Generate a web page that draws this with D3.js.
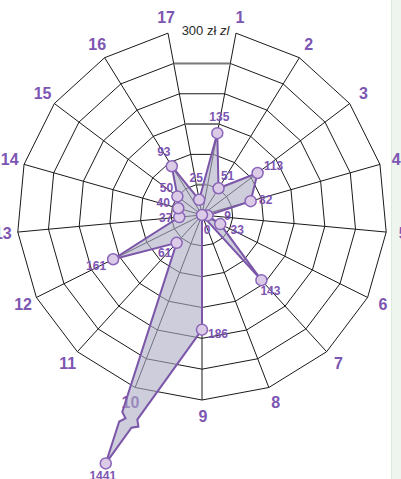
<!DOCTYPE html>
<html>
<head>
<meta charset="utf-8">
<script src="https://cdn.jsdelivr.net/npm/d3@7/dist/d3.min.js"></script>
<style>
  html, body { margin: 0; padding: 0; background: #fff; }
  svg { display: block; }
  text { font-family: "Liberation Sans", Arial, sans-serif; }
</style>
</head>
<body>
<svg id="chart" width="401" height="479"></svg>
<script>
// ---------- data ----------
const categories = ["1","2","3","4","5","6","7","8","9","10","11","12","13","14","15","16","17"];
const values = [135, 51, 113, 82, 9, 33, 143, 0, 186, 1441, 61, 161, 37, 40, 50, 93, 25];
const ringTicks = [50, 100, 150, 200, 250, 300];
const scaleMax = 300;
const scaleTitle = ["300 zł ", "zl"];

// ---------- layout ----------
const W = 401, H = 479;
const cx = 202, cy = 215, R = 185;
const overflowFactor = 1.44;
const purple = "#7d55b2";
// value label offsets (px) relative to each point
const labelOffsets = [[2,-16],[9,-12],[16,-7],[15,-1],[20,0],[17,6],[9,11],[5,15],[16,4],
                      [-3,13],[-12,10],[-17,7],[-13.5,1],[-15,-5],[-11,-8],[-8,-14],[-3,-22]];

const svg = d3.select("#chart");
const n = categories.length;
const angle = d3.scaleLinear().domain([0, n]).range([0, 2 * Math.PI]);
const rScale = d3.scaleLinear().domain([0, scaleMax]).range([0, R]);
const pt = (i, r) => {
  const a = angle(i + 0.5);
  return [cx + r * Math.sin(a), cy - r * Math.cos(a)];
};

// right side strip
svg.append("rect").attr("x", 391).attr("y", 0).attr("width", 10).attr("height", H)
  .attr("fill", "#eef5ee");
svg.append("line").attr("x1", 391.5).attr("x2", 391.5).attr("y1", 0).attr("y2", H)
  .attr("stroke", "#dde9dd").attr("stroke-width", 1);

const grid = svg.append("g").attr("fill", "none").attr("stroke", "#1a1a1a").attr("stroke-width", 1);

// rings (outer ring has a gap between axis 17 and axis 1 for the title)
ringTicks.forEach((t, k) => {
  const r = rScale(t);
  const pts = d3.range(n).map(i => pt(i, r));
  if (t === scaleMax) {
    grid.append("path").attr("d", d3.line()(pts));
  } else {
    grid.append("path").attr("d", d3.line()(pts) + "Z");
  }
});
// axes
d3.range(n).forEach(i => {
  const [x, y] = pt(i, R);
  grid.append("line").attr("x1", cx).attr("y1", cy).attr("x2", x).attr("y2", y);
});
// highlighted scale segments (top, between 17 and 1)
[50, 150, 250].forEach(t => {
  const a = pt(n - 1, rScale(t)), b = pt(0, rScale(t));
  svg.append("line").attr("x1", a[0]).attr("y1", a[1]).attr("x2", b[0]).attr("y2", b[1])
    .attr("stroke", "#7a7a7a").attr("stroke-width", 2);
});

// axis labels
svg.append("g").selectAll("text").data(categories).join("text")
  .attr("x", (d, i) => pt(i, R + 16)[0] + 1)
  .attr("y", (d, i) => pt(i, R + 16)[1])
  .attr("text-anchor", "middle").attr("dominant-baseline", "central")
  .attr("font-size", 16).attr("font-weight", "bold").attr("fill", purple)
  .text(d => d);

// scale title
const title = svg.append("text").attr("x", 205.5).attr("y", 35)
  .attr("text-anchor", "middle").attr("font-size", 13).attr("fill", "#2a2a2a");
title.append("tspan").text(scaleTitle[0]);
title.append("tspan").attr("font-style", "italic").text(scaleTitle[1]);

// data points (overflow values placed beyond the outer ring)
const points = values.map((v, i) => pt(i, v > scaleMax ? R * overflowFactor : rScale(v)));

// build polygon with zigzag breaks on edges that lead to overflow points
function zig(q, p) {
  const dx = p[0] - q[0], dy = p[1] - q[1];
  const L = Math.hypot(dx, dy);
  const ux = dx / L, uy = dy / L;
  let nx = -uy, ny = ux;
  if (nx < 0) { nx = -nx; ny = -ny; }
  const at = (d, o) => [q[0] + ux * d + nx * o, q[1] + uy * d + ny * o];
  return [at(54, 0), at(49, 5), at(44, 0)];
}
const path = [];
values.forEach((v, i) => {
  const prevI = (i - 1 + n) % n;
  if (v > scaleMax) {
    path.push(...zig(points[i], points[prevI]));
    path.push(points[i]);
    const nextI = (i + 1) % n;
    path.push(...zig(points[i], points[nextI]).reverse());
  } else {
    path.push(points[i]);
  }
});
svg.append("path").attr("d", d3.line()(path) + "Z")
  .attr("fill", "#acabc4").attr("fill-opacity", 0.6)
  .attr("stroke", "#7b56a9").attr("stroke-width", 2).attr("stroke-linejoin", "miter");

// point markers
svg.append("g").selectAll("circle").data(points).join("circle")
  .attr("cx", d => d[0]).attr("cy", d => d[1]).attr("r", 5.5)
  .attr("fill", "#dccbe7").attr("stroke", "#8a65b9").attr("stroke-width", 1.5);

// value labels
svg.append("g").selectAll("text").data(values).join("text")
  .attr("x", (d, i) => points[i][0] + labelOffsets[i][0])
  .attr("y", (d, i) => points[i][1] + labelOffsets[i][1])
  .attr("text-anchor", "middle").attr("dominant-baseline", "central")
  .attr("font-size", 12).attr("font-weight", "bold").attr("fill", purple)
  .text(d => d);
</script>
</body>
</html>
